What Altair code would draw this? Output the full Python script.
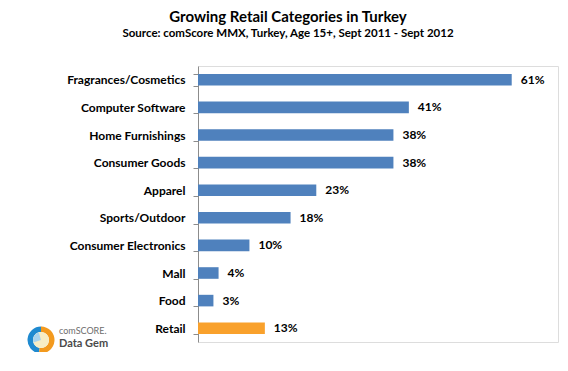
import altair as alt
import pandas as pd

categories = ["Fragrances/Cosmetics", "Computer Software", "Home Furnishings", "Consumer Goods",
              "Apparel", "Sports/Outdoor", "Consumer Electronics", "Mall", "Food", "Retail"]
values = [61, 41, 38, 38, 23, 18, 10, 4, 3, 13]
groups = ["cat"] * 9 + ["total"]
labels = [f"{v}%" for v in values]

df = pd.DataFrame({"category": categories, "value": values, "group": groups, "label": labels})

FONT = "Lato"

ysc = alt.Y("category:N", sort=categories, title=None,
            scale=alt.Scale(paddingInner=0.58, paddingOuter=0.29),
            axis=alt.Axis(labelFontWeight="bold", labelFontSize=12, labelColor="#000000",
                          labelFont=FONT, labelPadding=8, tickSize=5, tickColor="#8c8c8c",
                          domainColor="#8c8c8c", tickBand="extent", labelLimit=200))
xsc = alt.X("value:Q", scale=alt.Scale(domain=[0, 70]), axis=None)

bars = alt.Chart(df).mark_bar().encode(
    x=xsc, y=ysc,
    color=alt.Color("group:N", scale=alt.Scale(domain=["cat", "total"], range=["#4F81BD", "#F9A12C"]), legend=None),
)
text = alt.Chart(df).mark_text(align="left", dx=9, fontWeight="bold", fontSize=12, font=FONT, color="#000000").encode(
    x=xsc, y=ysc, text="label:N"
)

# decorative logo
logo_df = pd.DataFrame({
    "seg": ["a", "b", "c", "d"],
    "t1": [3.3, 0.0, 0.0, 4.4],
    "t2": [6.3, 3.3, 6.283, 6.0],
    "r1": [8, 8, 0, 0],
    "r2": [13.5, 13.5, 8, 8],
    "col": ["#1F8AD0", "#F39A1E", "#F7EDC4", "#A9D4EE"],
})
logo = alt.Chart(logo_df).mark_arc().encode(
    theta=alt.Theta("t1:Q", scale=None), theta2="t2:Q",
    radius=alt.Radius("r2:Q", scale=None), radius2="r1:Q",
    color=alt.Color("col:N", scale=None),
    x=alt.value(-157), y=alt.value(274),
)
logo_t1 = alt.Chart(pd.DataFrame({"t": ["comSCORE."]})).mark_text(
    align="left", fontSize=9, font=FONT, color="#6d6d6d").encode(
    text="t:N", x=alt.value(-139), y=alt.value(265))
logo_t2 = alt.Chart(pd.DataFrame({"t": ["Data Gem"]})).mark_text(
    align="left", fontSize=11, font=FONT, color="#4a4a4a", fontWeight="bold").encode(
    text="t:N", x=alt.value(-139), y=alt.value(278))

chart = alt.layer(bars, text, logo, logo_t1, logo_t2).properties(
    width=360, height=276,
    padding={"left": 190, "top": 58, "right": 2, "bottom": 10},
    autosize=alt.AutoSizeParams(type="none"),
    title=alt.TitleParams(
        "Growing Retail Categories in Turkey",
        subtitle="Source: comScore MMX, Turkey, Age 15+, Sept 2011 - Sept 2012",
        font=FONT, fontSize=15, fontWeight="bold", color="#000000",
        subtitleFont=FONT, subtitleFontSize=11.5, subtitleFontWeight="bold", subtitleColor="#000000",
        anchor="middle", dx=-90, offset=21, subtitlePadding=3,
    ),
).configure_view(stroke=None).configure(background="white")

chart.save("out.html", embed_options={"renderer": "svg", "actions": False})
